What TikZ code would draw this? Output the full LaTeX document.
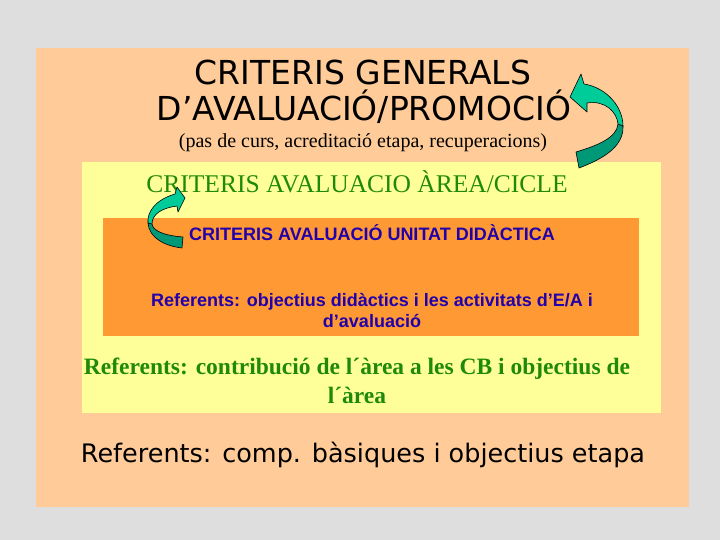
\documentclass[tikz,border=0pt]{standalone}
\usepackage{fontspec}
\setmainfont{Liberation Serif}
\newfontfamily\comicf{DejaVu Sans}
\newfontfamily\arialf{Liberation Sans}
\definecolor{bggray}{HTML}{DEDEDE}
\definecolor{peach}{HTML}{FFCC99}
\definecolor{paleyellow}{HTML}{FFFF99}
\definecolor{orangebox}{HTML}{FF9933}
\definecolor{greentext}{HTML}{1F8A0A}
\definecolor{bluetext}{HTML}{2200AA}
\definecolor{teallight}{HTML}{00CC99}
\definecolor{tealdark}{HTML}{009977}
\tikzset{
  lighttip/.style={fill=teallight, draw=black, line width=0.6pt, line join=round},
  darktip/.style={fill=tealdark, draw=black, line width=0.6pt, line join=round},
  titletext/.style={font=\comicf\fontsize{33}{35}\selectfont, text=black, inner sep=0pt},
  subtext/.style={font=\fontsize{20}{22}\selectfont, text=black, inner sep=0pt},
  greenhead/.style={font=\fontsize{25.5}{28}\selectfont, text=greentext, inner sep=0pt},
  greenref/.style={font=\bfseries\fontsize{23.5}{29}\selectfont, text=greentext, inner sep=0pt, align=center},
  bluetxt/.style={font=\arialf\bfseries\fontsize{18}{21}\selectfont, text=bluetext, inner sep=0pt, align=center},
  bottomtext/.style={font=\comicf\fontsize{25.5}{28}\selectfont, text=black, inner sep=0pt}
}
\begin{document}
\begin{tikzpicture}[x=1pt,y=-1pt]
\useasboundingbox (0,0) rectangle (720,540);
\fill[bggray] (0,0) rectangle (720,540);
\fill[peach] (36,48) rectangle (689,507);
\fill[paleyellow] (82,162) rectangle (661,413);
\fill[orangebox] (103,218) rectangle (639,336);

\node[titletext] (t1) at (363,72) {CRITERIS GENERALS};
\node[titletext] (t2) at (364,107) {D’AVALUACIÓ/PROMOCIÓ};
\node[subtext] (t3) at (363,143) {(pas de curs, acreditació etapa, recuperacions)};
\node[greenhead] (g1) at (357,182) {CRITERIS AVALUACIO ÀREA/CICLE};
\node[bluetxt] (b1) at (372,233) {CRITERIS AVALUACIÓ UNITAT DIDÀCTICA};
\node[bluetxt] (b2) at (372,310) {Referents: objectius didàctics i les activitats d’E/A i\\d’avaluació};
\node[greenref] (g2) at (357,381) {Referents: contribució de l´àrea a les CB i objectius de\\l´àrea};
\node[bottomtext] (bt) at (363,455) {Referents: comp. bàsiques i objectius etapa};

% top-right curved arrow
\draw[darktip] (623,126) .. controls (624,148) and (600,160) .. (579,168)
  -- (576,152) .. controls (596,146) and (617,138) .. (618,124) -- cycle;
\draw[lighttip] (570,97) -- (581,74) -- (584,84)
  .. controls (608,88) and (623,108) .. (623,126) -- (618,124)
  .. controls (617,112) and (605,100) .. (587,103) -- (587,112) -- cycle;

% left curved arrow
\draw[darktip] (148,223) .. controls (149,238) and (165,246) .. (182,248)
  -- (183,237) .. controls (168,236) and (153,232) .. (152,224) -- cycle;
\draw[lighttip] (185,198) -- (177,187) -- (175,194)
  .. controls (155,200) and (147,212) .. (148,223) -- (152,224)
  .. controls (152,214) and (162,208) .. (177,206) -- (178,212) -- cycle;
\end{tikzpicture}
\end{document}
